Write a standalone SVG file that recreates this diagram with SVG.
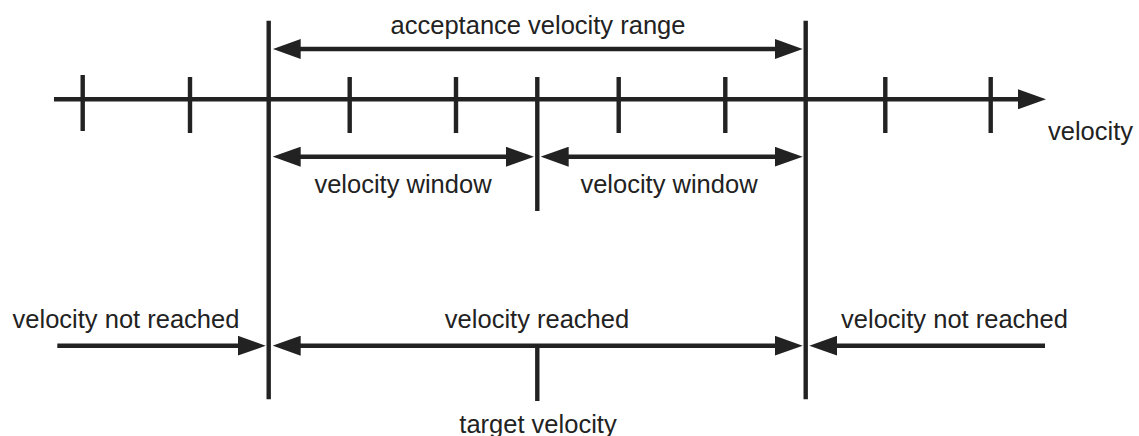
<svg xmlns="http://www.w3.org/2000/svg" width="1139" height="436" viewBox="0 0 1139 436">
  <defs>
    <marker id="ah" viewBox="0 0 28 20" refX="14" refY="10" markerWidth="28" markerHeight="20" markerUnits="userSpaceOnUse" orient="auto-start-reverse">
      <path d="M0,0 L28,10 L0,20 z" fill="#222"/>
    </marker>
    <style>
      .ln { stroke: #222; stroke-width: 4.4; fill: none; stroke-linecap: butt; }
      .ar { stroke: #222; stroke-width: 4.4; fill: none; }
      .tx { font-family: "Liberation Sans", Arial, sans-serif; font-size: 25.5px; fill: #222; }
    </style>
  </defs>
  <rect width="1139" height="436" fill="#fff"/>

  <g id="connectors">
    <!-- velocity axis -->
    <line class="ar" x1="54" y1="99.3" x2="1032" y2="99.3" marker-end="url(#ah)"/>
    <!-- ticks -->
    <line class="ln" x1="82.7" y1="75" x2="82.7" y2="131"/>
    <line class="ln" x1="190" y1="77" x2="190" y2="133"/>
    <line class="ln" x1="349.7" y1="77" x2="349.7" y2="133"/>
    <line class="ln" x1="456" y1="77" x2="456" y2="133"/>
    <line class="ln" x1="618.7" y1="77" x2="618.7" y2="133"/>
    <line class="ln" x1="725.3" y1="77" x2="725.3" y2="133"/>
    <line class="ln" x1="885.3" y1="77" x2="885.3" y2="133"/>
    <line class="ln" x1="990.7" y1="77" x2="990.7" y2="133"/>
    <!-- centre (target) line, upper -->
    <line class="ln" x1="537.3" y1="77" x2="537.3" y2="211"/>
    <!-- boundary verticals -->
    <line class="ln" x1="268.7" y1="20.7" x2="268.7" y2="399.3"/>
    <line class="ln" x1="805.7" y1="20.7" x2="805.7" y2="399.3"/>
    <!-- acceptance velocity range -->
    <line class="ar" x1="286.7" y1="49" x2="788.7" y2="49" marker-start="url(#ah)" marker-end="url(#ah)"/>
    <!-- velocity windows -->
    <line class="ar" x1="286.7" y1="156.7" x2="520" y2="156.7" marker-start="url(#ah)" marker-end="url(#ah)"/>
    <line class="ar" x1="554.7" y1="156.7" x2="788.7" y2="156.7" marker-start="url(#ah)" marker-end="url(#ah)"/>
    <!-- bottom row -->
    <line class="ar" x1="57.3" y1="345.7" x2="251.7" y2="345.7" marker-end="url(#ah)"/>
    <line class="ar" x1="286.7" y1="345.7" x2="788.7" y2="345.7" marker-start="url(#ah)" marker-end="url(#ah)"/>
    <line class="ar" x1="1045" y1="345.7" x2="823.3" y2="345.7" marker-end="url(#ah)"/>
    <!-- target velocity tick -->
    <line class="ln" x1="537.3" y1="345.7" x2="537.3" y2="401"/>
  </g>

  <g id="label-acceptance"><text class="tx" x="538" y="34" text-anchor="middle">acceptance velocity range</text></g>
  <g id="label-window-left"><text class="tx" x="403" y="193" text-anchor="middle">velocity window</text></g>
  <g id="label-window-right"><text class="tx" x="669" y="193" text-anchor="middle">velocity window</text></g>
  <g id="label-velocity-axis"><text class="tx" x="1048" y="140">velocity</text></g>
  <g id="label-not-reached-left"><text class="tx" x="126" y="328" text-anchor="middle">velocity not reached</text></g>
  <g id="label-reached"><text class="tx" x="537" y="328" text-anchor="middle">velocity reached</text></g>
  <g id="label-not-reached-right"><text class="tx" x="954.5" y="328" text-anchor="middle">velocity not reached</text></g>
  <g id="label-target"><text class="tx" x="538" y="433" text-anchor="middle">target velocity</text></g>
</svg>
